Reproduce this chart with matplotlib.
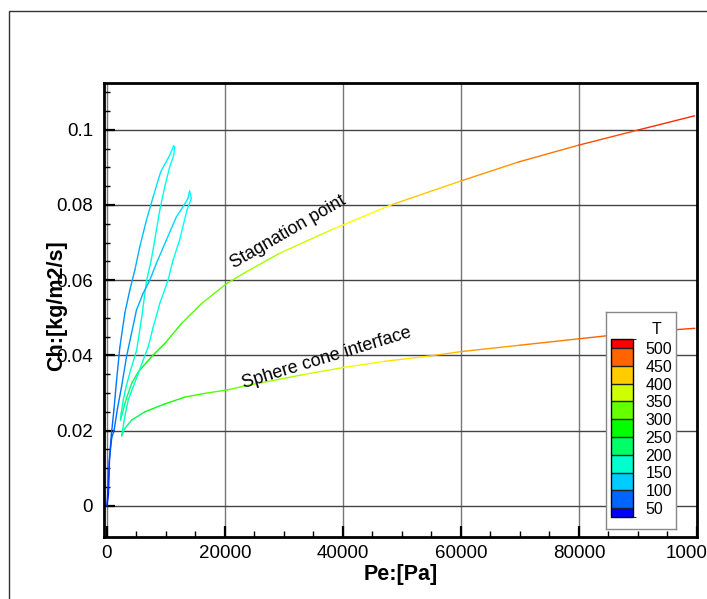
import matplotlib
matplotlib.use('agg')
import numpy as np
import matplotlib.pyplot as plt
from matplotlib.collections import LineCollection
from matplotlib.colors import LinearSegmentedColormap, BoundaryNorm, ListedColormap, Normalize
from matplotlib.patches import Rectangle

plt.rcParams['font.family'] = ['Liberation Sans', 'DejaVu Sans']

# stagnation point: Pe [Pa], Ch [kg/m2/s], T
stag_pe = [0, 250, 350, 450, 750, 1180, 1640, 2190, 3040, 3880, 4730, 5570, 6700, 7820,
           9110, 10630, 11310,
           11480, 11310, 10630, 9790, 8950, 8100, 7500, 6730, 5880, 5030, 4000, 3300, 2770,
           2400, 2300,
           2600, 3050, 4190, 5310, 7580, 9830, 12660, 16050, 20390, 23390, 29200, 37930,
           48330, 60040, 69710, 79960, 89970, 99600]
stag_ch = [0.0, 0.003, 0.008, 0.013, 0.019, 0.0255, 0.0335, 0.0422, 0.0513, 0.0574, 0.0627,
           0.0689, 0.076, 0.0821, 0.0888, 0.0932, 0.0957,
           0.0954, 0.0932, 0.0901, 0.0848, 0.0786, 0.0707, 0.0653, 0.060, 0.050, 0.0414,
           0.036, 0.032, 0.0282, 0.0245, 0.0228,
           0.0245, 0.0273, 0.0326, 0.0356, 0.0397, 0.0432, 0.0485, 0.0538, 0.0592, 0.0620,
           0.0671, 0.0733, 0.0801, 0.0864, 0.0914, 0.0959, 0.0999, 0.1037]
stag_t = [40, 48, 55, 62, 70, 78, 85, 92, 98, 104, 110, 116, 124, 132, 140, 147, 152,
          155, 157, 159, 161, 163, 165, 167, 169, 172, 175, 178, 181, 184, 187, 190,
          198, 212, 235, 255, 275, 290, 305, 320, 335, 345, 362, 385, 412, 442, 458, 477,
          495, 515]

# sphere cone interface
cone_pe = [0, 200, 400, 800, 1200, 1800, 2480, 3320, 4170, 5010, 6130, 7260, 8390, 10080,
           11760, 12880, 13720, 14010,
           14300, 13560, 12320, 11200, 10350, 8980, 7850, 7000, 6150, 5310, 4460, 3610, 3000,
           2490,
           3050, 4190, 6440, 9830, 13220, 16610, 20390, 23390, 25830, 33000, 40170, 47000,
           54520, 60040, 70000, 79960, 89970, 99640]
cone_ch = [0.0, 0.005, 0.012, 0.018, 0.02, 0.026, 0.0317, 0.0397, 0.0459, 0.0521, 0.0565,
           0.06, 0.0645, 0.0707, 0.0768, 0.0795, 0.0817, 0.0837,
           0.0817, 0.0786, 0.0707, 0.0653, 0.06, 0.0539, 0.0476, 0.0423, 0.0388, 0.0352,
           0.0317, 0.0282, 0.0235, 0.0186,
           0.0206, 0.0228, 0.025, 0.0271, 0.0289, 0.0299, 0.0308, 0.0319, 0.0326, 0.0348,
           0.0368, 0.0384, 0.0398, 0.041, 0.0427, 0.0444, 0.0461, 0.0472]
cone_t = [40, 50, 60, 70, 76, 82, 88, 95, 100, 106, 112, 117, 122, 128, 134, 138, 141, 144,
          147, 150, 153, 156, 159, 162, 165, 168, 171, 174, 177, 181, 185, 190,
          205, 225, 250, 275, 295, 310, 325, 335, 345, 365, 385, 405, 425, 440, 455, 470,
          485, 500]

levels = [50, 100, 150, 200, 250, 300, 350, 400, 450, 500]

# tecplot-like small rainbow
cmap = LinearSegmentedColormap.from_list(
    'rainbow_small', ['#0000ff', '#00ffff', '#00ff00', '#ffff00', '#ff0000'])
norm = Normalize(25, 525)


def colored_line(ax, x, y, t):
    pts = np.column_stack([x, y]).reshape(-1, 1, 2)
    segs = np.concatenate([pts[:-1], pts[1:]], axis=1)
    t = np.asarray(t, dtype=float)
    lc = LineCollection(segs, cmap=cmap, norm=norm, linewidth=1.0, capstyle='round',
                        joinstyle='round')
    lc.set_array((t[:-1] + t[1:]) / 2)
    ax.add_collection(lc)


W, H = 707, 599
fig = plt.figure(figsize=(W / 100, H / 100), dpi=100)
ax = fig.add_axes([104 / W, 1 - 537 / H, (697 - 104) / W, (537 - 82.7) / H])

colored_line(ax, stag_pe, stag_ch, stag_t)
colored_line(ax, cone_pe, cone_ch, cone_t)

ax.set_xlim(-500, 100000)
ax.set_ylim(-0.0083, 0.1125)
ax.set_xticks([0, 20000, 40000, 60000, 80000, 100000])
ax.set_xticks(np.arange(0, 100001, 5000), minor=True)
ax.set_yticks([0, 0.02, 0.04, 0.06, 0.08, 0.1])
ax.set_yticks(np.arange(0, 0.1101, 0.005), minor=True)
ax.set_xticklabels(['0', '20000', '40000', '60000', '80000', '100000'])
ax.set_yticklabels(['0', '0.02', '0.04', '0.06', '0.08', '0.1'])
ax.tick_params(which='major', direction='in', length=8, width=1.6, labelsize=13.5,
               color='black')
ax.tick_params(which='minor', direction='in', length=4, width=1)
ax.tick_params(axis='y', pad=8)
ax.tick_params(axis='x', pad=6)

for x in [0, 20000, 40000, 60000, 80000]:
    ax.axvline(x, color='#777777', lw=1, zorder=0.5)
for y in [0, 0.02, 0.04, 0.06, 0.08, 0.1]:
    ax.axhline(y, color='#444444', lw=1, zorder=0.5)

for s in ax.spines.values():
    s.set_linewidth(2)

ax.set_xlabel('Pe:[Pa]', fontsize=15.5, fontweight='bold', labelpad=1)
ax.set_ylabel('Ch:[kg/m2/s]', fontsize=15.5, fontweight='bold')
ax.yaxis.set_label_coords(-0.062, 0.51)

ax.text(30700, 0.0728, 'Stagnation point', rotation=30, fontsize=13,
        ha='center', va='center', rotation_mode='anchor')
ax.text(37300, 0.0393, 'Sphere cone interface', rotation=17, fontsize=13,
        ha='center', va='center', rotation_mode='anchor')

# outer frame
fig.add_artist(Rectangle((9 / W, -0.05), 1.0, 1 - 11 / H + 0.05, transform=fig.transFigure,
                         fill=False, ec='#333333', lw=1))

# legend box with contour levels
box = fig.add_axes([606 / W, 1 - 529 / H, 70 / W, 217 / H])
box.set_xticks([])
box.set_yticks([])
for s in box.spines.values():
    s.set_color('#888888')
    s.set_linewidth(1)
box.text(0.72, 0.92, 'T', fontsize=11.5, ha='center', va='center', transform=box.transAxes)

bounds = [25] + levels + [525]
block_vals = [25] + [v + 25 for v in levels]
block_cmap = ListedColormap([cmap(norm(v)) for v in block_vals])
cax = fig.add_axes([611 / W, 1 - 517 / H, 22 / W, 178 / H])
sm = plt.cm.ScalarMappable(cmap=block_cmap, norm=BoundaryNorm(bounds, block_cmap.N))
cb = fig.colorbar(sm, cax=cax, boundaries=bounds, spacing='proportional', ticks=levels,
                  drawedges=True)
cb.outline.set_linewidth(1)
cb.dividers.set_color('#222222')
cb.dividers.set_linewidth(1)
cax.tick_params(length=0, labelsize=11.5, pad=9)

fig.savefig('out.png', dpi=100)
